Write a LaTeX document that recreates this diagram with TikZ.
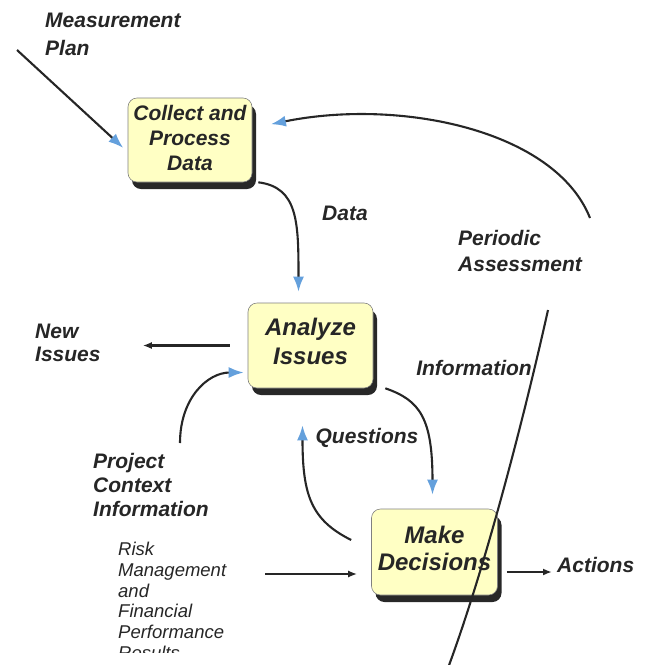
\documentclass[tikz,border=0pt]{standalone}
\usepackage{fontspec}
\setmainfont{Liberation Sans}
\usetikzlibrary{arrows.meta,shadows}
\definecolor{ink}{RGB}{38,38,38}
\definecolor{notefill}{RGB}{255,255,196}
\definecolor{tipblue}{RGB}{100,160,220}
\definecolor{shade}{RGB}{40,40,40}
\begin{document}
\begin{tikzpicture}[x=1pt,y=-1pt,
  stepbox/.style={draw=gray,line width=0.6pt,fill=notefill,rounded corners=9pt,inner sep=0pt,align=center,text=ink,
    drop shadow={shadow xshift=4pt,shadow yshift=-7pt,fill=shade,opacity=1}},
  lbl/.style={text=ink,inner sep=0pt,align=left,font=\bfseries\itshape\fontsize{21}{26}\selectfont},
  flow/.style={draw=ink,line width=2.1pt,-{Latex[length=15pt,width=11pt,color=tipblue]}},
  link/.style={draw=ink,line width=2.1pt,-{Latex[length=9pt,width=7pt]}}]
\useasboundingbox (0,0) rectangle (648,665);
\node[stepbox,minimum width=124pt,minimum height=84pt,text depth=4pt,font=\bfseries\itshape\fontsize{21}{25}\selectfont] (collect) at (190,140) {Collect and\\Process\\Data};
\node[stepbox,minimum width=125pt,minimum height=85pt,text depth=8pt,font=\bfseries\itshape\fontsize{24}{29}\selectfont] (analyze) at (310.5,345.5) {Analyze\\Issues};
\node[stepbox,minimum width=126pt,minimum height=86pt,text depth=8pt,font=\bfseries\itshape\fontsize{24}{27}\selectfont] (decide) at (434.5,552) {Make\\Decisions};
\node[lbl,anchor=west,font=\bfseries\itshape\fontsize{21}{28}\selectfont] (plan) at (45,34) {Measurement\\Plan};
\node[lbl] (data) at (345,213) {Data};
\node[lbl,anchor=west] (periodic) at (458,251) {Periodic\\Assessment};
\node[lbl] (information) at (474,368) {Information};
\node[lbl] (questions) at (367,438) {Questions};
\node[lbl,anchor=west,font=\bfseries\itshape\fontsize{21}{23}\selectfont] (newissues) at (35,343) {New\\Issues};
\node[lbl,anchor=west,font=\bfseries\itshape\fontsize{21}{24}\selectfont] (context) at (93,485) {Project\\Context\\Information};
\node[lbl] (actions) at (557,565) [anchor=west] {Actions};
\begin{scope}
\clip (0,0) rectangle (648,652);
\node[lbl,anchor=north west,font=\itshape\fontsize{18.5}{20.7}\selectfont] (risk) at (118,542) {Risk\\Management\\and\\Financial\\Performance\\Results};
\end{scope}
\coordinate (planstart) at (17,50);
\coordinate (cycletop) at (590,218);
\coordinate (ctxstart) at (180,443);
\coordinate (arcupper) at (548,310);
\coordinate (arclower) at (448,668);
\draw[flow,shorten >=6pt] (planstart) -- ([yshift=-12pt]collect.west);
\draw[flow,shorten >=19pt] (cycletop) .. controls (555,130) and (400,98) .. ([yshift=12pt]collect.east);
\draw[flow,shorten >=11pt] ([xshift=6pt]collect.south east) .. controls +(40,5) and +(0,-80) .. ([xshift=-12pt]analyze.north);
\draw[link,shorten <=18pt,shorten >=42pt] (analyze.west) -- (analyze.west -| newissues.east);
\draw[flow,shorten >=4pt] (ctxstart) .. controls +(0,-45) and +(-40,0) .. ([yshift=-27pt]analyze.west);
\draw[flow,shorten >=14pt] ([xshift=12pt]analyze.south east) .. controls +(35,12) and +(0,-90) .. ([xshift=-2pt]decide.north);
\draw[flow,shorten >=37pt] ([shift={(-20pt,12pt)}]decide.west) .. controls +(-40,-20) and +(0,107) .. ([xshift=-8pt]analyze.south);
\draw[link,shorten <=39pt,shorten >=14pt] ([yshift=-22pt]decide.west -| risk.east) -- ([yshift=-22pt]decide.west);
\draw[link,shorten <=9pt,shorten >=5pt] ([yshift=-20pt]decide.east) -- ([yshift=-20pt]decide.east -| actions.west);
\draw[ink,line width=2.1pt] (arcupper) .. controls (528,400) and (488,560) .. (arclower);
\end{tikzpicture}
\end{document}
